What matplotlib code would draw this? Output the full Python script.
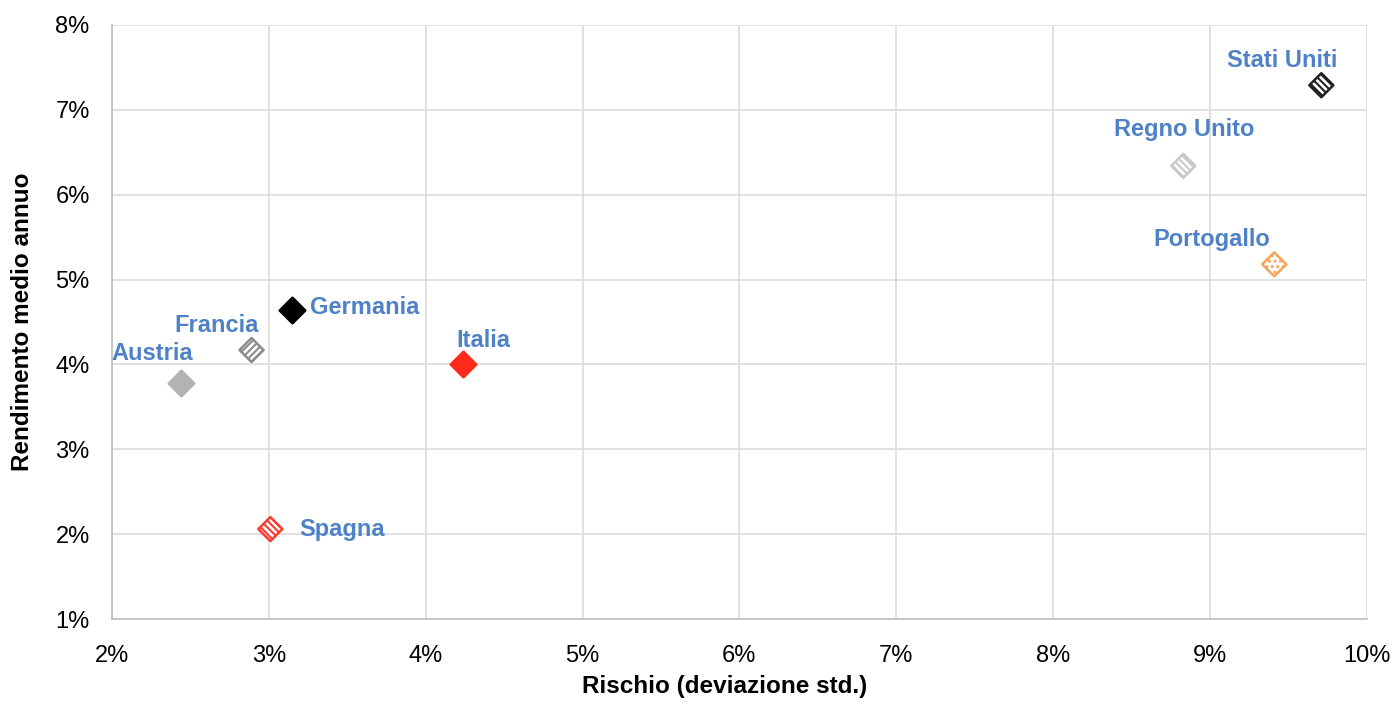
import matplotlib
matplotlib.use("Agg")
import matplotlib.pyplot as plt
from matplotlib.ticker import FuncFormatter

plt.rcParams["font.family"] = ["Liberation Sans", "DejaVu Sans"]
plt.rcParams["hatch.linewidth"] = 1.5

countries = ["Austria", "Francia", "Germania", "Italia", "Spagna", "Regno Unito", "Portogallo", "Stati Uniti"]
risk = [2.44, 2.89, 3.15, 4.24, 3.01, 8.83, 9.41, 9.71]
ret = [3.78, 4.17, 4.64, 4.00, 2.06, 6.34, 5.18, 7.29]

x_ticks = [2, 3, 4, 5, 6, 7, 8, 9, 10]
y_ticks = [1, 2, 3, 4, 5, 6, 7, 8]

# style per country: (facecolor, edgecolor, hatch, size)
styles = {
    "Austria": ("#b3b3b3", "#b3b3b3", None, 170),
    "Francia": ("white", "#8c8c8c", "/////", 150),
    "Germania": ("black", "black", None, 170),
    "Italia": ("#ff2a1a", "#ff2a1a", None, 170),
    "Spagna": ("white", "#ff3b30", "\\\\\\\\\\", 150),
    "Regno Unito": ("white", "#c8c8c8", "\\\\\\\\\\", 150),
    "Portogallo": ("white", "#f5a55a", "...", 150),
    "Stati Uniti": ("white", "#222222", "\\\\\\\\\\", 150),
}
# label offsets in points (dx, dy, ha)
offsets = {
    "Austria": (-21, 21, "center"),
    "Francia": (5, 18, "right"),
    "Germania": (13, 2, "left"),
    "Italia": (-5, 17, "left"),
    "Spagna": (21, 0, "left"),
    "Regno Unito": (1, 26, "center"),
    "Portogallo": (-45, 18, "center"),
    "Stati Uniti": (-28, 18, "center"),
}

fig = plt.figure(figsize=(13.99, 7.14), dpi=100)
ax = fig.add_axes([0.080, 0.133, 0.897, 0.832])

for c, xv, yv in zip(countries, risk, ret):
    fc, ec, h, sz = styles[c]
    ax.scatter([xv], [yv], marker="D", s=sz, facecolor=fc, edgecolor=ec,
               linewidth=1.8, hatch=h, zorder=3)
    dx, dy, ha = offsets[c]
    ax.annotate(c, (xv, yv), xytext=(dx, dy), textcoords="offset points",
                ha=ha, va="center", color="#4f81c7", fontsize=17,
                fontweight="bold", zorder=4)

ax.set_xlim(2, 10)
ax.set_ylim(1, 8)
ax.set_xticks(x_ticks)
ax.set_yticks(y_ticks)
fmt = FuncFormatter(lambda v, p: f"{v:.0f}%")
ax.xaxis.set_major_formatter(fmt)
ax.yaxis.set_major_formatter(fmt)
ax.tick_params(axis="both", length=0, labelsize=17)
ax.tick_params(axis="x", pad=19)
ax.tick_params(axis="y", pad=16)
ax.grid(True, color="#dcdcdc", linewidth=1.2)
ax.set_axisbelow(True)
for s in ["top", "right"]:
    ax.spines[s].set_visible(False)
for s in ["left", "bottom"]:
    ax.spines[s].set_color("#bfbfbf")
    ax.spines[s].set_linewidth(1.2)

ax.set_xlabel("Rischio (deviazione std.)", fontsize=17.5, fontweight="bold")
ax.xaxis.set_label_coords(0.488, -0.095)
ax.set_ylabel("Rendimento medio annuo", fontsize=17.5, fontweight="bold", labelpad=15)

fig.savefig("out.png", dpi=100)
